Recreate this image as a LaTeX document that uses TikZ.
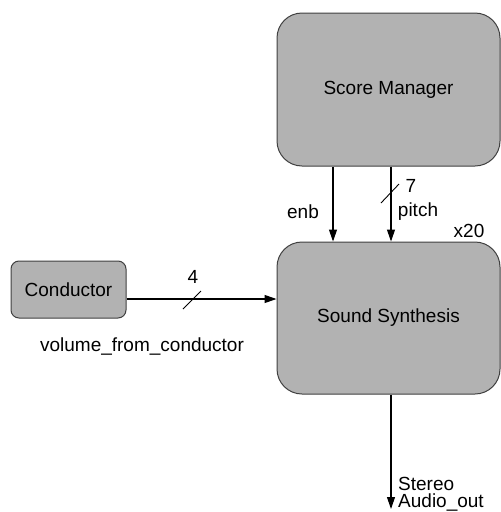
\documentclass[tikz,border=0pt]{standalone}
\usepackage{fontspec}
\setmainfont{Liberation Sans}
\usetikzlibrary{arrows.meta,calc}
\begin{document}
\begin{tikzpicture}[x=1pt,y=-1pt,
  blk/.style={draw=black!75,line width=1pt,fill=black!30,rounded corners=25pt,inner sep=0pt,font=\fontsize{19}{22}\selectfont},
  smallblk/.style={blk,rounded corners=8pt},
  arr/.style={line width=1.1pt,-{Triangle[length=12pt,width=8pt]}},
  lbl/.style={font=\fontsize{19}{22}\selectfont,inner sep=0pt},
  tick/.style={line width=0.9pt}]
\useasboundingbox (0,0) rectangle (501,512);
\node[blk,minimum width=223pt,minimum height=153pt] (sm) at (388.5,89.5) {Score Manager};
\node[blk,minimum width=223pt,minimum height=152pt] (synth) at (388.5,318) {Sound Synthesis};
\node[smallblk,minimum width=115pt,minimum height=57pt] (cond) at (68.5,289.5) {Conductor};
% conductor -> synth
\coordinate (cin) at (126,299);
\draw[arr] (cond.east |- cin) -- (synth.west |- cin);
\draw[tick] (183,309) -- (201,291);
\node[lbl] (l4) at (193,277) {4};
\node[lbl] (lvol) at (142,346) {volume\_from\_conductor};
% enb
\coordinate (enbx) at (333,200);
\draw[arr] (sm.south -| enbx) -- (synth.north -| enbx);
\node[lbl] (lenb) at (303,212) {enb};
% pitch
\coordinate (pitx) at (391,200);
\draw[arr] (sm.south -| pitx) -- (synth.north -| pitx);
\draw[tick] (381,203) -- (399,184);
\node[lbl] (l7) at (411,186) {7};
\node[lbl] (lpitch) at (418,212) {pitch};
\node[lbl] (lx20) at (469,231) {x20};
% output
\coordinate (out) at (391,509);
\draw[arr] (synth.south -| out) -- (out);
\node[lbl,anchor=south west,align=left,font=\fontsize{19}{17.5}\selectfont] (lout) at (398,511.5) {Stereo\\Audio\_out};
\end{tikzpicture}
\end{document}
